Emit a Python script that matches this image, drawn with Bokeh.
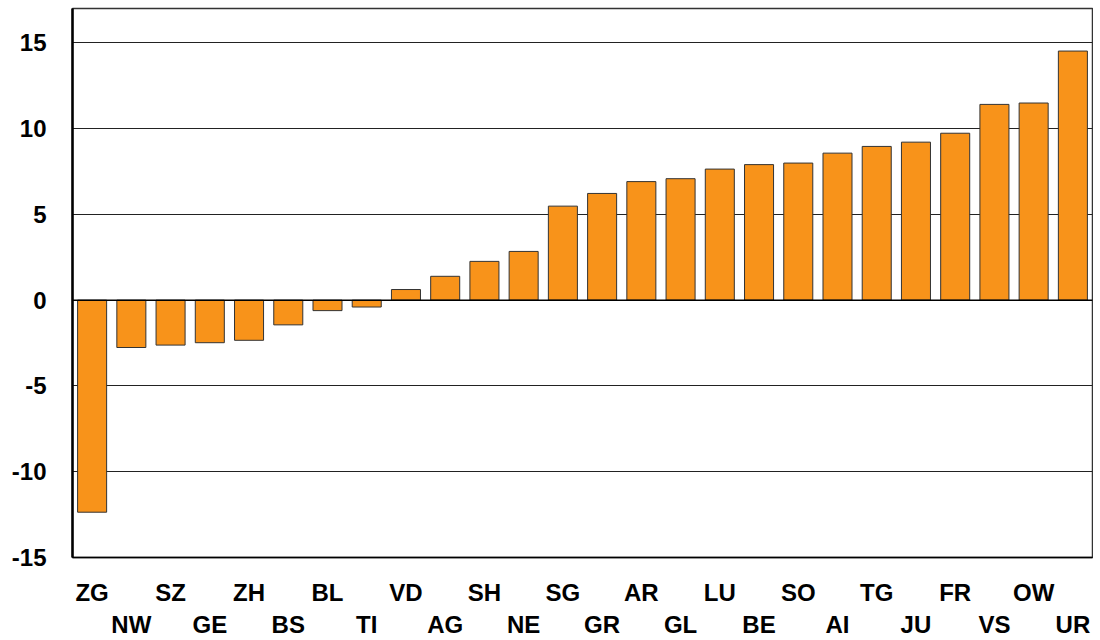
from bokeh.plotting import figure
from bokeh.models import Range1d, FixedTicker, Span
from bokeh.embed import file_html
from bokeh.resources import INLINE

cantons = ["ZG", "NW", "SZ", "GE", "ZH", "BS", "BL", "TI", "VD", "AG", "SH", "NE", "SG",
           "GR", "AR", "GL", "LU", "BE", "SO", "AI", "TG", "JU", "FR", "VS", "OW", "UR"]
values = [-12.36, -2.76, -2.62, -2.48, -2.34, -1.44, -0.61, -0.40, 0.62, 1.39, 2.26, 2.84, 5.48,
          6.22, 6.91, 7.08, 7.64, 7.90, 7.99, 8.57, 8.96, 9.21, 9.73, 11.41, 11.49, 14.52]
y_ticks = [-15, -10, -5, 0, 5, 10, 15]

FONT = "Liberation Sans"
FS = "24px"

positions = list(range(len(cantons)))
# staggered labels: even on the first row, odd on the second row
x_labels = {i: (c + "\n" if i % 2 == 0 else "\n" + c) for i, c in enumerate(cantons)}

p = figure(width=1093, height=640, output_backend="svg", toolbar_location=None,
           x_range=Range1d(-0.5, len(cantons) - 0.5),
           y_range=Range1d(-15, 17),
           min_border_left=72, min_border_right=1, min_border_top=8, min_border_bottom=60)

p.vbar(x=positions, top=values, bottom=0, width=0.74,
       fill_color="#F8931A", line_color="#333333", line_width=1)

p.add_layout(Span(location=0, dimension="width", line_color="black", line_width=1.5))

p.outline_line_color = "#333333"
p.outline_line_width = 1.5
p.xgrid.grid_line_color = None
p.ygrid.ticker = FixedTicker(ticks=y_ticks)
p.ygrid.grid_line_color = "#222222"
p.ygrid.grid_line_width = 1

p.yaxis.ticker = FixedTicker(ticks=y_ticks)
p.yaxis.major_label_overrides = {t: str(t) for t in y_ticks}
p.yaxis.axis_line_color = "black"
p.yaxis.axis_line_width = 2.5
p.yaxis.major_tick_line_color = None
p.yaxis.minor_tick_line_color = None
p.yaxis.major_label_standoff = 20
p.yaxis.major_label_text_font = FONT
p.yaxis.major_label_text_font_style = "bold"
p.yaxis.major_label_text_font_size = FS
p.yaxis.major_label_text_color = "black"

ax = p.xaxis[0]
ax.ticker = FixedTicker(ticks=positions)
ax.major_label_overrides = x_labels
ax.axis_line_color = "black"
ax.axis_line_width = 1.5
ax.major_tick_line_color = None
ax.minor_tick_line_color = None
ax.major_label_standoff = 15
ax.major_label_text_font = FONT
ax.major_label_text_font_style = "bold"
ax.major_label_text_font_size = FS
ax.major_label_text_line_height = 1.2
ax.major_label_text_color = "black"

open("out.html", "w").write(file_html(p, INLINE))
